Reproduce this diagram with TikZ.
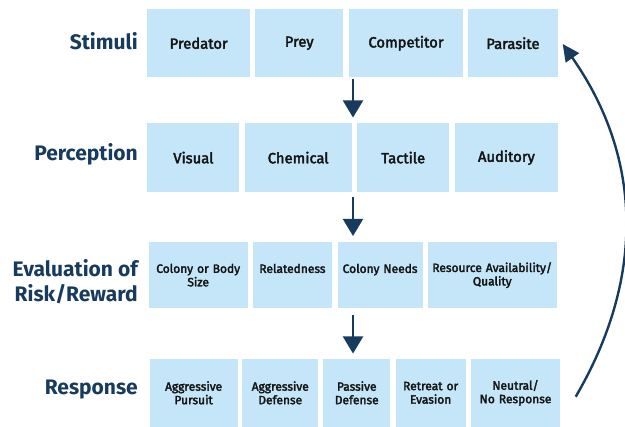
\documentclass[tikz,border=0pt]{standalone}
\usepackage{fontspec}
\setmainfont{Fira Sans}
\newfontfamily\medfont{Fira Sans}[FakeBold=2.6]
\usetikzlibrary{arrows.meta}
\definecolor{boxfill}{HTML}{C5E6F8}
\definecolor{navy}{HTML}{173B5E}
\definecolor{boxtext}{HTML}{141414}
\begin{document}
\begin{tikzpicture}[x=1pt,y=-1pt,
  cell/.style={fill=boxfill, draw=none, inner sep=0pt, text=boxtext, align=center},
  rowlabel/.style={anchor=east, text=navy, font=\fontsize{21}{25}\selectfont\bfseries, align=right, inner sep=0pt},
  bigtxt/.style={font=\medfont\fontsize{14.8}{17}\selectfont},
  smalltxt/.style={font=\medfont\fontsize{12}{13.5}\selectfont},
  downarr/.style={draw=navy, line width=2pt, -{Triangle[width=20pt,length=17pt]}},
  backarr/.style={draw=navy, line width=2.4pt, -{Triangle[width=16pt,length=17pt]}}
]
\useasboundingbox (0,0) rectangle (625,427);
\newcommand{\cellbox}[7]{% name, x1, y1, x2, y2, style, text
  \node[cell,#6, minimum width={#4-#2}, minimum height={#5-#3}, text width={#4-#2-2}] (#1) at ({(#2+#4)/2},{(#3+#5)/2}) {#7};}
% Row 1
\cellbox{predator}{147.4}{9.5}{250}{77}{bigtxt}{Predator}
\cellbox{prey}{255}{9.5}{343.4}{77}{bigtxt}{Prey}
\cellbox{competitor}{349}{9.5}{463}{77}{bigtxt}{Competitor}
\cellbox{parasite}{467.7}{9.5}{558.2}{77}{bigtxt}{Parasite}
% Row 2
\cellbox{visual}{147.4}{123.5}{239.4}{191.7}{bigtxt}{Visual}
\cellbox{chemical}{244.6}{123.5}{351.8}{191.7}{bigtxt}{Chemical}
\cellbox{tactile}{357}{123.5}{449.4}{191.7}{bigtxt}{Tactile}
\cellbox{auditory}{454.6}{123.5}{558.2}{191.7}{bigtxt}{Auditory}
% Row 3
\cellbox{size}{148.6}{242}{247.8}{308.3}{smalltxt}{Colony or Body\\Size}
\cellbox{related}{252.6}{242}{332.3}{308.3}{smalltxt}{Relatedness\\\phantom{X}}
\cellbox{needs}{337.5}{242}{422.7}{308.3}{smalltxt}{Colony Needs\\\phantom{X}}
\cellbox{resource}{427.5}{242}{557}{308.3}{smalltxt}{Resource Availability/\\Quality}
% Row 4
\cellbox{pursuit}{149.8}{358.7}{237.5}{427}{smalltxt}{Aggressive\\Pursuit}
\cellbox{adef}{242.2}{358.7}{318.3}{427}{smalltxt}{Aggressive\\Defense}
\cellbox{pdef}{323.1}{358.7}{390.4}{427}{smalltxt}{Passive\\Defense}
\cellbox{retreat}{395.6}{358.7}{465.7}{427}{smalltxt}{Retreat or\\Evasion}
\cellbox{neutral}{470.9}{358.7}{560.2}{427}{smalltxt}{Neutral/\\No Response}
% Row labels
\node[rowlabel] (lstim) at (138,41) {Stimuli};
\node[rowlabel] (lperc) at (138,154) {Perception};
\node[rowlabel] (leval) at (138,282) {Evaluation of\\Risk/Reward};
\node[rowlabel] (lresp) at (138,390) {Response};
% Down arrows
\coordinate (a1s) at (353,79);  \coordinate (a1e) at (353,117.5);
\coordinate (a2s) at (353,197.5); \coordinate (a2e) at (353,236);
\coordinate (a3s) at (353,315.5); \coordinate (a3e) at (353,353.5);
\draw[downarr] (a1s) -- (a1e);
\draw[downarr] (a2s) -- (a2e);
\draw[downarr] (a3s) -- (a3e);
% Feedback arrow
\coordinate (fbs) at (575.7,396.7);
\coordinate (fbe) at (562.7,44);
\draw[backarr] (fbs) .. controls (644,280) and (644,160) .. (fbe);
\end{tikzpicture}
\end{document}
